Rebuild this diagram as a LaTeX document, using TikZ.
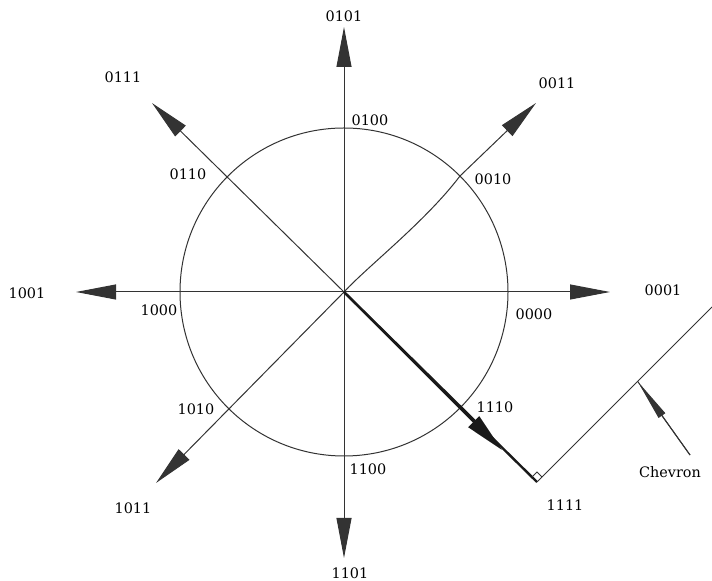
\documentclass[tikz,border=0pt]{standalone}
\usepackage{fontspec}
\setmainfont{DejaVu Serif}
\usepackage{tikz}
\usetikzlibrary{arrows.meta,calc}

\begin{document}
\begin{tikzpicture}[x=0.5pt,y=-0.5pt,font=\fontsize{7.2}{8.5}\selectfont,
  >={Triangle[length=20pt,width=7.5pt]},
  spoke/.style={line width=0.5pt,draw=black!80,->},
  heavy/.style={line width=1.2pt,draw=black!90},
  code/.style={inner sep=0pt}]
\useasboundingbox (0,0) rectangle (712,581);
\coordinate (c) at (344,292);
\draw[line width=0.5pt,black!80] (c) circle (164);
% straight spokes
\foreach \nm/\px/\py in {up/344/27, dn/344/558, lt/76/292, rt/610/292, nw/152/103, sw/156/483}{
  \coordinate (\nm) at (\px,\py);
  \draw[spoke] (c) -- (\nm);
}
% bent spoke to 0011
\coordinate (ne) at (536,103);
\coordinate (q) at (460,176);
\draw[spoke] (c) .. controls (368,266) and (425,222) .. (q) -- (ne);
% heavy ray and chevron
\coordinate (se) at (502,450);
\coordinate (k) at (537,482);
\coordinate (kend) at (712,307);
\draw[heavy] (c) -- (k);
\draw[heavy,->] (c) -- (se);
\draw[line width=0.5pt,black!80] (k) -- (kend);
\draw[line width=0.4pt,black!80] ($(k)+(-5,-5)$) -- ++(5,-5) -- ++(5,5);
\foreach \t/\px/\py in {0101/344/16, 0100/370/120, 0111/123/77, 0110/188/174,
  0011/557/83, 0010/493/179, 1001/27/293, 1000/159/310, 0000/534/314,
  0001/663/290, 1110/495/407, 1111/565/505, 1010/196/409, 1011/133/508,
  1100/368/469, 1101/350/573}{
  \node[code] (l\t) at (\px,\py) {\t};
}
\node[code] (chev) at (670,472) {Chevron};
\coordinate (ctail) at (690,455);
\coordinate (ctip) at ($(k)!0.575!(kend)$);
\draw[line width=0.5pt,black!80] (ctail) -- (ctip);
\draw[line width=0.5pt,black!80,-{Triangle[length=21pt,width=4pt]}] (ctail) -- (ctip);
\end{tikzpicture}
\end{document}
